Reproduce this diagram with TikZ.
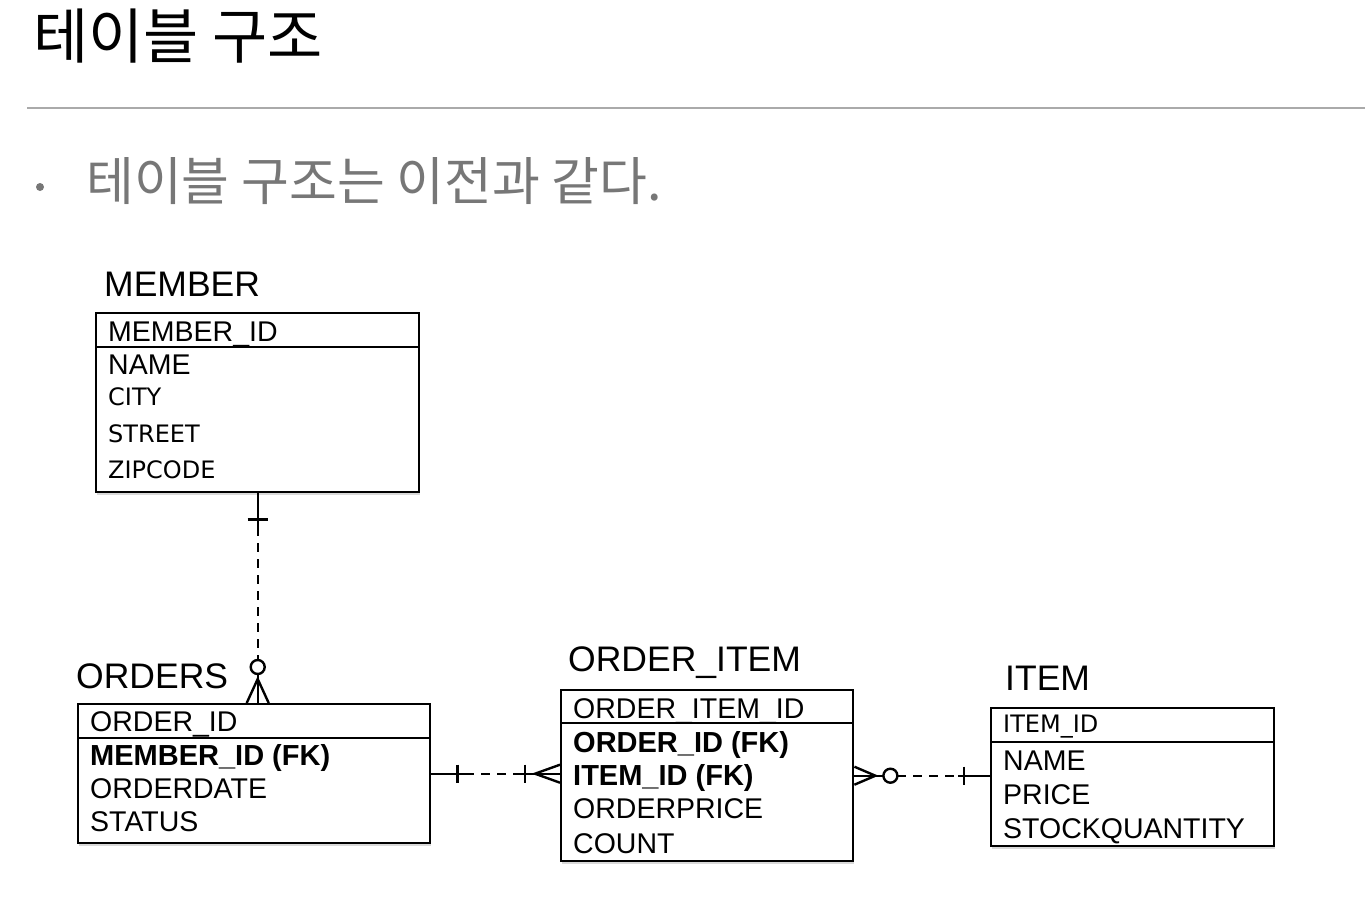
\documentclass[tikz,border=0pt]{standalone}
\usepackage{fontspec}
\setmainfont{Liberation Sans}
\newfontfamily\krfont{Noto Sans CJK KR}
\newfontfamily\vfont{DejaVu Sans}
\usepackage{tikz}
\usetikzlibrary{calc}
\usetikzlibrary{shadows}

\definecolor{subgray}{HTML}{777777}
\definecolor{rulegray}{HTML}{AAAAAA}

\begin{document}
\begin{tikzpicture}[x=1pt,y=-1pt,
    tbl/.style={draw,line width=2.4pt,fill=white,anchor=north west,inner sep=0pt,
      drop shadow={shadow xshift=1pt,shadow yshift=-3pt,opacity=.3}},
    ttl/.style={anchor=base west,inner sep=0pt,font=\fontsize{35.5}{40}\selectfont},
    fld/.style={anchor=base west,inner sep=0pt,font=\fontsize{28.5}{32}\selectfont},
    fkey/.style={fld,font=\fontsize{29}{32}\selectfont\bfseries},
    vfld/.style={fld,font=\vfont\fontsize{24}{28}\selectfont},
    rel/.style={line width=2.4pt},
    dashrel/.style={rel,dash pattern=on 9pt off 7pt}]

  \useasboundingbox (0,0) rectangle (1365,897);

  % heading
  \node [anchor=base west,inner sep=0pt,font=\krfont\fontsize{60}{68}\selectfont] (title) at (33,58) {테이블 구조};
  \draw [rulegray,line width=1.5pt] (27,108) -- (1365,108);
  \fill [subgray] (40,187) circle [radius=4pt];
  \node [anchor=base west,inner sep=0pt,text=subgray,font=\krfont\fontsize{52}{60}\selectfont] (sub) at (86,200) {테이블 구조는 이전과 같다.};

  % MEMBER
  \node [ttl] (member_t) at (104,296) {MEMBER};
  \node [tbl,minimum width=323pt,minimum height=179pt] (member) at (95,312) {};
  \draw [rel] ($(member.north west)+(0,35)$) -- ($(member.north east)+(0,35)$);
  \node [fld]  (member_id)     at (108,341) {MEMBER\_ID};
  \node [fld]  (member_name)   at (108,374) {NAME};
  \node [vfld] (member_city)   at (108,405) {CITY};
  \node [vfld] (member_street) at (108,442) {STREET};
  \node [vfld] (member_zip)    at (108,478) {ZIPCODE};

  % ORDERS
  \node [ttl] (orders_t) at (76,688) {ORDERS};
  \node [tbl,minimum width=352pt,minimum height=139pt] (orders) at (77,703) {};
  \draw [rel] ($(orders.north west)+(0,35)$) -- ($(orders.north east)+(0,35)$);
  \node [fld]  (orders_id)     at (90,731) {ORDER\_ID};
  \node [fkey] (orders_member) at (90,765) {MEMBER\_ID (FK)};
  \node [fld]  (orders_date)   at (90,798) {ORDERDATE};
  \node [fld]  (orders_status) at (90,831) {STATUS};

  % ORDER_ITEM
  \node [ttl] (oitem_t) at (568,671) {ORDER\_ITEM};
  \node [tbl,minimum width=292pt,minimum height=171pt] (oitem) at (560,689) {};
  \draw [rel] ($(oitem.north west)+(0,34)$) -- ($(oitem.north east)+(0,34)$);
  \node [fld]  (oitem_id)    at (573,718) {ORDER\_ITEM\_ID};
  \node [fkey] (oitem_order) at (573,752) {ORDER\_ID (FK)};
  \node [fkey] (oitem_item)  at (573,785) {ITEM\_ID (FK)};
  \node [fld]  (oitem_price) at (573,818) {ORDERPRICE};
  \node [fld]  (oitem_count) at (573,853) {COUNT};

  % ITEM
  \node [ttl] (item_t) at (1005,690) {ITEM};
  \node [tbl,minimum width=283pt,minimum height=138pt] (item) at (990,707) {};
  \draw [rel] ($(item.north west)+(0,35)$) -- ($(item.north east)+(0,35)$);
  \node [vfld] (item_id)    at (1003,732) {ITEM\_ID};
  \node [fld]  (item_name)  at (1003,770) {NAME};
  \node [fld]  (item_price) at (1003,804) {PRICE};
  \node [fld]  (item_stock) at (1003,838) {STOCKQUANTITY};

  % MEMBER 1 -- 0..* ORDERS
  \coordinate (mo_a) at (member.south);
  \coordinate (mo_b) at (member.south |- orders.north);
  \draw [rel] (mo_a) -- ($(mo_a)+(0,34)$);
  \draw [rel] ($(mo_a)+(-10,26)$) -- ($(mo_a)+(10,26)$);
  \draw [dashrel] ($(mo_a)+(0,34)$) -- ($(mo_b)+(0,-43)$);
  \draw [rel] ($(mo_b)+(0,-36)$) circle [radius=7pt];
  \draw [rel] ($(mo_b)+(0,-29)$) -- (mo_b);
  \draw [rel] ($(mo_b)+(-11,0)$) -- ($(mo_b)+(0,-24)$) -- ($(mo_b)+(11,0)$);

  % ORDERS 1 -- 1..* ORDER_ITEM
  \coordinate (oo_a) at (orders.east);
  \coordinate (oo_b) at (orders.east -| oitem.west);
  \draw [rel] (oo_a) -- ($(oo_a)+(34,0)$);
  \draw [rel] ($(oo_a)+(26,-9)$) -- ($(oo_a)+(26,9)$);
  \draw [dashrel] ($(oo_a)+(34,0)$) -- ($(oo_b)+(-43,0)$);
  \draw [rel] ($(oo_b)+(-43,0)$) -- (oo_b);
  \draw [rel] ($(oo_b)+(-35,-9)$) -- ($(oo_b)+(-35,9)$);
  \draw [rel] ($(oo_b)+(0,-9)$) -- ($(oo_b)+(-25,0)$) -- ($(oo_b)+(0,9)$);

  % ORDER_ITEM 0..* -- 1 ITEM
  \coordinate (oi_a) at (oitem.east);
  \coordinate (oi_b) at (oitem.east -| item.west);
  \draw [rel] ($(oi_a)+(0,-9)$) -- ($(oi_a)+(21,0)$) -- ($(oi_a)+(0,9)$);
  \draw [rel] (oi_a) -- ($(oi_a)+(29,0)$);
  \draw [rel] ($(oi_a)+(36,0)$) circle [radius=7pt];
  \draw [dashrel] ($(oi_a)+(43,0)$) -- ($(oi_b)+(-32,0)$);
  \draw [rel] ($(oi_b)+(-32,0)$) -- (oi_b);
  \draw [rel] ($(oi_b)+(-26,-9)$) -- ($(oi_b)+(-26,9)$);
\end{tikzpicture}
\end{document}
